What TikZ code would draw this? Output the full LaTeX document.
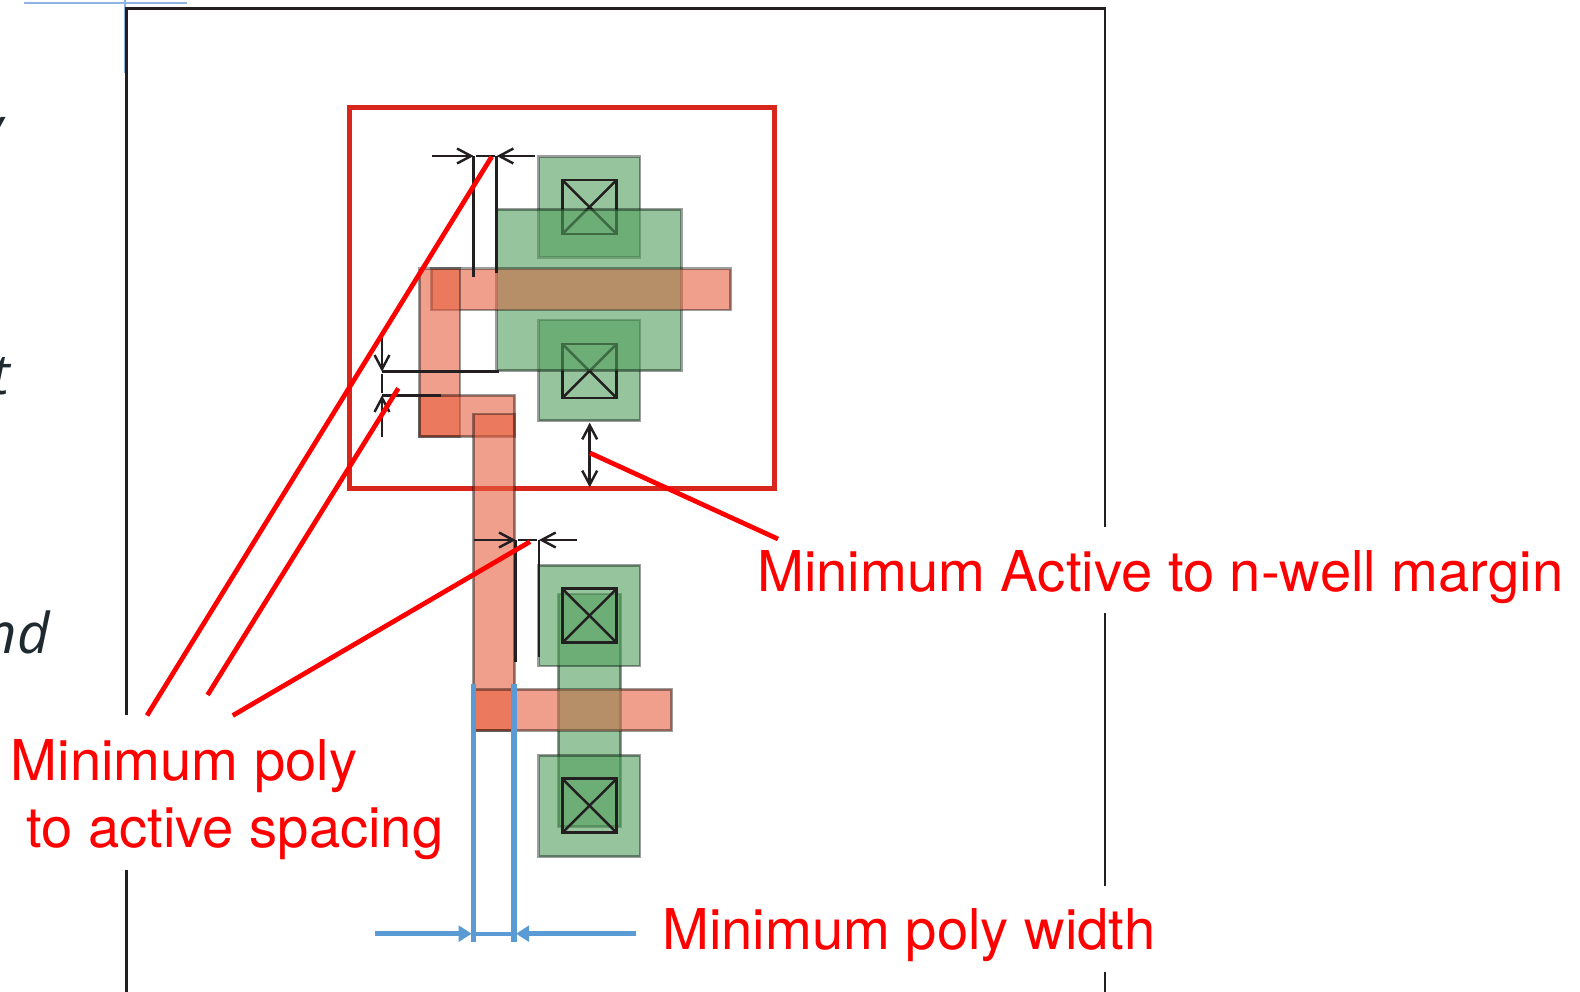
\documentclass[tikz,border=0pt]{standalone}
\usepackage{fontspec}
\setmainfont{TeX Gyre Heros}
\newfontfamily\slidefont{Open Sans}
\usetikzlibrary{arrows.meta}
\definecolor{framecol}{HTML}{231F20}
\definecolor{wellcol}{HTML}{D9261C}
\definecolor{activecol}{RGB}{80,158,92}
\definecolor{polycol}{RGB}{230,95,63}
\definecolor{overlapcol}{RGB}{147,157,115}
\definecolor{guidecol}{HTML}{8DB4E2}
\definecolor{widthcol}{HTML}{5B9BD5}
\definecolor{slidecol}{HTML}{1F2A30}
\tikzset{
    frameline/.style={draw=framecol, line width=1.6pt},
    guideline/.style={draw=guidecol, line width=0.6pt},
    wellbox/.style={draw=wellcol, line width=2.8pt, line join=miter},
    activebox/.style={fill=activecol, fill opacity=0.6, draw=black, draw opacity=0.38, line width=1.6pt},
    polybox/.style={fill=polycol, fill opacity=0.6, draw=black, draw opacity=0.38, line width=1.6pt},
    overlapbox/.style={fill=overlapcol, fill opacity=0.3},
    contactbox/.style={draw=framecol, line width=1.5pt},
    dimline/.style={draw=framecol, line width=1.4pt},
    dimarrow/.style={dimline, -{Straight Barb[length=8pt, width=8.5pt, line width=1.4pt]}},
    dimboth/.style={dimline, {Straight Barb[length=8pt, width=8.5pt, line width=1.4pt]}-{Straight Barb[length=8pt, width=8.5pt, line width=1.4pt]}},
    widthline/.style={draw=widthcol, line width=3pt},
    widtharrow/.style={widthline, -{Triangle[length=7.5pt, width=9pt]}},
    leader/.style={draw=red, line width=2.7pt},
    rulelabel/.style={text=red, inner sep=0pt, font=\fontsize{32}{38.1}\selectfont},
    slidetext/.style={text=slidecol, inner sep=0pt, anchor=base east, font=\slidefont\itshape\fontsize{32}{38}\selectfont}
}
\begin{document}
\begin{tikzpicture}
    \def\x{0.02}
    \def\y{-0.02}
    \useasboundingbox (0,0) rectangle (1580*\x, 992*\y);
    \node [slidetext] (Slide_0) at (4*\x, 148*\y) {y};
    \node [slidetext] (Slide_1) at (10*\x, 395*\y) {t};
    \node [slidetext] (Slide_2) at (50*\x, 654*\y) {nd};
    \draw [guideline] (24*\x, 3*\y) -- (187*\x, 3*\y);
    \draw [guideline] (125*\x, 0*\y) -- (125*\x, 73*\y);
    \draw [frameline] (126.7*\x, 715*\y) -- (126.7*\x, 8.3*\y) -- (1105*\x, 8.3*\y) -- (1105*\x, 527*\y);
    \draw [frameline] (126.7*\x, 870*\y) -- (126.7*\x, 992*\y);
    \draw [frameline] (1105*\x, 613*\y) -- (1105*\x, 886*\y);
    \draw [frameline] (1105*\x, 972*\y) -- (1105*\x, 992*\y);
    \draw [wellbox] (349.3*\x, 107.3*\y) rectangle (774.7*\x, 488.7*\y);
    \draw [activebox] (558.3*\x, 594*\y) rectangle (620.7*\x, 826.7*\y);
    \draw [activebox] (538.7*\x, 156.7*\y) rectangle (640*\x, 257.3*\y);
    \draw [activebox] (538.7*\x, 320*\y) rectangle (640*\x, 420.7*\y);
    \draw [activebox] (538.7*\x, 565.3*\y) rectangle (640*\x, 666*\y);
    \draw [activebox] (538.7*\x, 755.3*\y) rectangle (640*\x, 856.7*\y);
    \foreach \cy in {180, 344, 588.7, 778.7} {
        \draw [contactbox] (562.3*\x, \cy*\y) rectangle (616.7*\x, \cy*\y+54*\y);
        \draw [dimline] (562.3*\x, \cy*\y) -- (616.7*\x, \cy*\y+54*\y);
        \draw [dimline] (562.3*\x, \cy*\y+54*\y) -- (616.7*\x, \cy*\y);
    }
    \draw [activebox] (496.7*\x, 209.3*\y) rectangle (681.3*\x, 370.7*\y);
    \draw [polybox] (431.3*\x, 268.7*\y) rectangle (730.7*\x, 310*\y);
    \draw [polybox] (419.3*\x, 268.7*\y) rectangle (460*\x, 436.7*\y);
    \draw [polybox] (419.3*\x, 395.3*\y) rectangle (514.7*\x, 436.7*\y);
    \draw [polybox] (473.3*\x, 414*\y) rectangle (514.7*\x, 730.7*\y);
    \draw [polybox] (473.3*\x, 689.3*\y) rectangle (671.7*\x, 730.7*\y);
    \fill [overlapbox] (496.7*\x, 268.7*\y) rectangle (681.3*\x, 310*\y);
    \fill [overlapbox] (558.3*\x, 689.3*\y) rectangle (620.7*\x, 730.7*\y);
    \coordinate (Top_0) at (431.7*\x, 156*\y);
    \coordinate (Top_1) at (473.7*\x, 156*\y);
    \coordinate (Top_2) at (476*\x, 156*\y);
    \coordinate (Top_3) at (495*\x, 156*\y);
    \coordinate (Top_4) at (496.7*\x, 156*\y);
    \coordinate (Top_5) at (535*\x, 156*\y);
    \coordinate (TopDrop_1) at (473.7*\x, 277.3*\y);
    \coordinate (TopDrop_4) at (496.7*\x, 273.3*\y);
    \path (Top_0) edge [dimarrow] (Top_1);
    \path (Top_5) edge [dimarrow] (Top_4);
    \path (Top_2) edge [dimline] (Top_3);
    \path (Top_1) edge [dimline] (TopDrop_1);
    \path (Top_4) edge [dimline] (TopDrop_4);
    \coordinate (Side_0) at (382*\x, 335*\y);
    \coordinate (Side_1) at (382*\x, 371.7*\y);
    \coordinate (Side_2) at (382*\x, 374*\y);
    \coordinate (Side_3) at (382*\x, 392.7*\y);
    \coordinate (Side_4) at (382*\x, 395.3*\y);
    \coordinate (Side_5) at (382*\x, 437.3*\y);
    \coordinate (SideRun_1) at (499.3*\x, 371.7*\y);
    \coordinate (SideRun_4) at (440.7*\x, 395.3*\y);
    \path (Side_0) edge [dimarrow] (Side_1);
    \path (Side_5) edge [dimarrow] (Side_4);
    \path (Side_2) edge [dimline] (Side_3);
    \path (Side_1) edge [dimline] (SideRun_1);
    \path (Side_4) edge [dimline] (SideRun_4);
    \coordinate (Low_0) at (474*\x, 540*\y);
    \coordinate (Low_1) at (515.7*\x, 540*\y);
    \coordinate (Low_2) at (518.3*\x, 540*\y);
    \coordinate (Low_3) at (536.7*\x, 540*\y);
    \coordinate (Low_4) at (539*\x, 540*\y);
    \coordinate (Low_5) at (576.7*\x, 540*\y);
    \coordinate (LowDrop_1) at (515.7*\x, 662*\y);
    \coordinate (LowDrop_4) at (539*\x, 657.3*\y);
    \path (Low_0) edge [dimarrow] (Low_1);
    \path (Low_5) edge [dimarrow] (Low_4);
    \path (Low_2) edge [dimline] (Low_3);
    \path (Low_1) edge [dimline] (LowDrop_1);
    \path (Low_4) edge [dimline] (LowDrop_4);
    \coordinate (Margin_0) at (589.7*\x, 422.7*\y);
    \coordinate (Margin_1) at (589.7*\x, 487.3*\y);
    \path (Margin_0) edge [dimboth] (Margin_1);
    \coordinate (Width_0) at (374.7*\x, 933.7*\y);
    \coordinate (Width_1) at (471.7*\x, 933.7*\y);
    \coordinate (Width_2) at (473.3*\x, 933.7*\y);
    \coordinate (Width_3) at (514*\x, 933.7*\y);
    \coordinate (Width_4) at (516*\x, 933.7*\y);
    \coordinate (Width_5) at (636*\x, 933.7*\y);
    \coordinate (WidthTop_2) at (473.3*\x, 684*\y);
    \coordinate (WidthEnd_2) at (473.3*\x, 941.7*\y);
    \coordinate (WidthTop_3) at (514*\x, 684*\y);
    \coordinate (WidthEnd_3) at (514*\x, 941.7*\y);
    \path (WidthTop_2) edge [widthline] (WidthEnd_2);
    \path (WidthTop_3) edge [widthline] (WidthEnd_3);
    \path (Width_0) edge [widtharrow] (Width_1);
    \path (Width_5) edge [widtharrow] (Width_4);
    \path (Width_2) edge [widthline, line width=2.2pt] (Width_3);
    \node [rulelabel, anchor=base west] (Rule_0) at (757*\x, 591*\y) {Minimum Active to n-well margin};
    \node [rulelabel, anchor=base west] (Rule_1) at (662*\x, 949*\y) {Minimum poly width};
    \node [rulelabel, anchor=base west, align=left] (Rule_2) at (10.5*\x, 847*\y) {Minimum poly\\~to active spacing};
    \coordinate (Lead_0) at (147*\x, 715.5*\y);
    \coordinate (Lead_1) at (491.7*\x, 156.7*\y);
    \coordinate (Lead_2) at (207.6*\x, 695*\y);
    \coordinate (Lead_3) at (398.3*\x, 388.3*\y);
    \coordinate (Lead_4) at (232.8*\x, 715.5*\y);
    \coordinate (Lead_5) at (530*\x, 541.7*\y);
    \coordinate (Lead_6) at (590*\x, 453*\y);
    \coordinate (Lead_7) at (778*\x, 539*\y);
    \path (Lead_0) edge [leader] (Lead_1);
    \path (Lead_2) edge [leader] (Lead_3);
    \path (Lead_4) edge [leader] (Lead_5);
    \path (Lead_6) edge [leader] (Lead_7);
\end{tikzpicture}
\end{document}
